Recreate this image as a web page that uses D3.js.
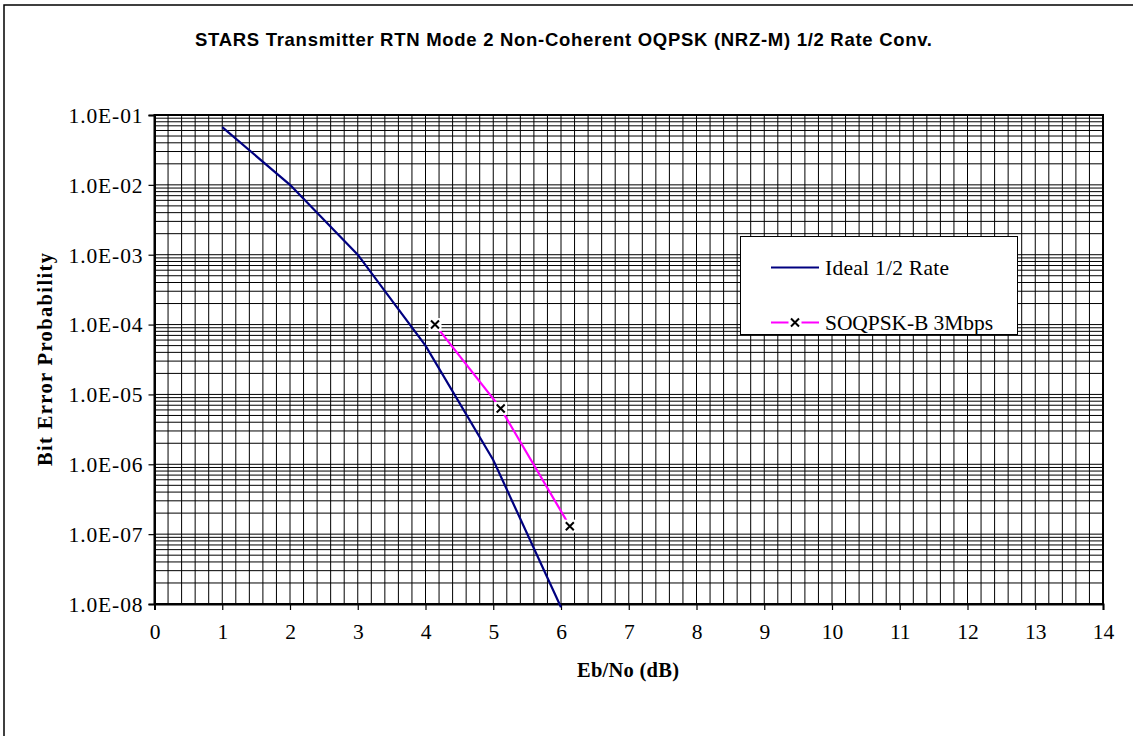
<!DOCTYPE html>
<html>
<head>
<meta charset="utf-8">
<script src="https://cdn.jsdelivr.net/npm/d3@7"></script>
<style>
  html, body { margin: 0; padding: 0; background: #fff; }
  svg { display: block; }
</style>
</head>
<body>
<svg id="chart" width="1133" height="736"></svg>
<script>
// ---- Data ----
const idealX = [1, 2, 3, 4, 5, 6];
const idealY = [0.067, 1.0e-2, 1.0e-3, 5.0e-5, 1.15e-6, 9.0e-9];
const soqX = [4.14, 5.11, 6.13];
const soqY = [1.0e-4, 6.3e-6, 1.3e-7];
const xTicks = [0,1,2,3,4,5,6,7,8,9,10,11,12,13,14];
const yTicks = [1e-1,1e-2,1e-3,1e-4,1e-5,1e-6,1e-7,1e-8];
const yTickLabels = ["1.0E-01","1.0E-02","1.0E-03","1.0E-04","1.0E-05","1.0E-06","1.0E-07","1.0E-08"];
const titleText = "STARS Transmitter RTN Mode 2 Non-Coherent OQPSK (NRZ-M) 1/2 Rate Conv.";
const xTitle = "Eb/No (dB)";
const yTitle = "Bit Error Probability";
const seriesNames = ["Ideal 1/2 Rate", "SOQPSK-B 3Mbps"];

// ---- Layout ----
const L = 154.5, R = 1103, T = 115, B = 604;
const svg = d3.select("#chart");
const x = d3.scaleLinear().domain([0, 14]).range([L, R]);
const y = d3.scaleLog().domain([1e-8, 1e-1]).range([B, T]);

// outer chart border
svg.append("rect").attr("x", 4).attr("y", 5).attr("width", 1140).attr("height", 740)
  .attr("fill", "#fff").attr("stroke", "#000").attr("stroke-width", 1.5);

// title
svg.append("text").attr("x", 563.5).attr("y", 46).attr("text-anchor", "middle")
  .attr("font-family", "Liberation Sans, Arial, sans-serif").attr("font-weight", "bold")
  .attr("font-size", 18.5).attr("textLength", 737).attr("lengthAdjust", "spacing")
  .text(titleText);

const g = svg.append("g");

// vertical gridlines every 0.2
const vGrid = d3.range(1, 70).map(i => i * 0.2);
g.selectAll("line.vg").data(vGrid).join("line")
  .attr("x1", d => x(d)).attr("x2", d => x(d)).attr("y1", T).attr("y2", B)
  .attr("stroke", "#000").attr("stroke-width", 1);

// horizontal gridlines (log minors + decades)
const hGrid = [];
for (let e = -8; e < -1; e++) for (let k = 1; k <= 9; k++) hGrid.push(k * Math.pow(10, e));
g.selectAll("line.hg").data(hGrid).join("line")
  .attr("x1", L).attr("x2", R).attr("y1", d => y(d)).attr("y2", d => y(d))
  .attr("stroke", "#000").attr("stroke-width", 1);

// plot border
g.append("rect").attr("x", L).attr("y", T).attr("width", R - L).attr("height", B - T)
  .attr("fill", "none").attr("stroke", "#000").attr("stroke-width", 2);

// y axis
const yAxis = d3.axisLeft(y).tickValues(yTicks).tickSize(6).tickPadding(6)
  .tickFormat((d, i) => yTickLabels[i]);
const ya = svg.append("g").attr("transform", `translate(${L},0)`).call(yAxis);
ya.select(".domain").attr("stroke", "#000").attr("stroke-width", 2);
ya.selectAll(".tick line").attr("stroke", "#000").attr("stroke-width", 1.2);
ya.selectAll(".tick text").attr("font-family", "Liberation Serif, Times New Roman, serif")
  .attr("font-size", 21.5).attr("fill", "#000").attr("dy", "0.34em")
  .attr("textLength", 74).attr("lengthAdjust", "spacing");

// x axis
const xAxis = d3.axisBottom(x).tickValues(xTicks).tickSize(6).tickPadding(14).tickFormat(d3.format("d"));
const xa = svg.append("g").attr("transform", `translate(0,${B})`).call(xAxis);
xa.select(".domain").attr("stroke", "#000").attr("stroke-width", 2);
xa.selectAll(".tick line").attr("stroke", "#000").attr("stroke-width", 1.2);
xa.selectAll(".tick text").attr("font-family", "Liberation Serif, Times New Roman, serif")
  .attr("font-size", 21.5).attr("fill", "#000");

// axis titles
svg.append("text").attr("x", 628).attr("y", 677).attr("text-anchor", "middle")
  .attr("font-family", "Liberation Serif, Times New Roman, serif").attr("font-weight", "bold")
  .attr("font-size", 20.5).attr("textLength", 102).attr("lengthAdjust", "spacing").text(xTitle);
svg.append("text").attr("transform", `translate(52,${(T + B) / 2}) rotate(-90)`)
  .attr("text-anchor", "middle")
  .attr("font-family", "Liberation Serif, Times New Roman, serif").attr("font-weight", "bold")
  .attr("font-size", 20.5).attr("textLength", 213).attr("lengthAdjust", "spacing").text(yTitle);

// series
const line = d3.line().x(d => x(d[0])).y(d => y(d[1]));
const ideal = idealX.map((v, i) => [v, idealY[i]]);
const soq = soqX.map((v, i) => [v, soqY[i]]);
svg.append("path").datum(ideal).attr("d", line).attr("fill", "none")
  .attr("stroke", "#000080").attr("stroke-width", 2.2);
svg.append("path").datum(soq).attr("d", line).attr("fill", "none")
  .attr("stroke", "#FF00FF").attr("stroke-width", 2.2);

function xMarker(sel, cx, cy) {
  sel.append("rect").attr("x", cx - 6.5).attr("y", cy - 6.5).attr("width", 13).attr("height", 13).attr("fill", "#fff");
  sel.append("path").attr("d", `M${cx-4},${cy-4}L${cx+4},${cy+4}M${cx-4},${cy+4}L${cx+4},${cy-4}`)
    .attr("stroke", "#000").attr("stroke-width", 2);
}
const mk = svg.append("g");
soq.forEach(d => xMarker(mk, x(d[0]), y(d[1])));

// legend
const lg = svg.append("g");
lg.append("rect").attr("x", 740.5).attr("y", 236.5).attr("width", 277).attr("height", 98)
  .attr("fill", "#fff").attr("stroke", "#000").attr("stroke-width", 1);
lg.append("line").attr("x1", 771).attr("x2", 819).attr("y1", 267.5).attr("y2", 267.5)
  .attr("stroke", "#000080").attr("stroke-width", 2.2);
lg.append("line").attr("x1", 771).attr("x2", 819).attr("y1", 322.5).attr("y2", 322.5)
  .attr("stroke", "#FF00FF").attr("stroke-width", 2.2);
xMarker(lg, 795, 322.5);
lg.append("text").attr("x", 825).attr("y", 275).attr("font-family", "Liberation Serif, Times New Roman, serif")
  .attr("font-size", 21.5).attr("textLength", 124).attr("lengthAdjust", "spacing").text(seriesNames[0]);
lg.append("text").attr("x", 825).attr("y", 330).attr("font-family", "Liberation Serif, Times New Roman, serif")
  .attr("font-size", 21.5).attr("textLength", 168).attr("lengthAdjust", "spacing").text(seriesNames[1]);
</script>
</body>
</html>
